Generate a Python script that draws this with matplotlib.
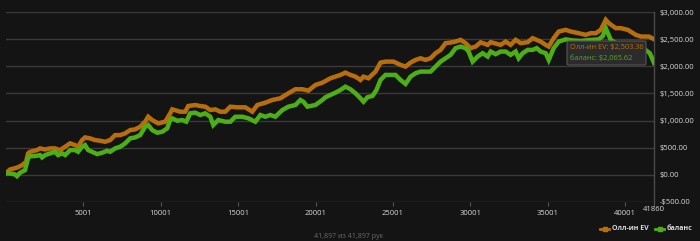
import matplotlib
matplotlib.use("Agg")
import matplotlib.pyplot as plt
from matplotlib.lines import Line2D
from matplotlib.patches import FancyBboxPatch

# ---- data ----
ev_hands = [1, 260, 712, 1036, 1295, 1424, 1553, 2006, 2200, 2524, 2847, 3170, 3494, 3817, 4141,
            4464, 4658, 4917, 5111, 5434, 5758, 6081, 6404, 6728, 7051, 7375, 7698, 8021, 8345,
            8668, 8992, 9186, 9444, 9832, 10285, 10608, 10738, 11255, 11579, 11773, 12226, 12549,
            12872, 13196, 13519, 13843, 14166, 14489, 14942, 15460, 15912, 16236, 16753, 17206,
            17723, 18241, 18694, 19147, 19535, 19988, 20440, 20958, 21605, 21928, 22252, 22575,
            22898, 23092, 23416, 23868, 24192, 24515, 25033, 25485, 25809, 26132, 26455, 26779,
            27102, 27426, 27749, 28072, 28396, 28719, 29043, 29366, 29689, 30013, 30336, 30660,
            31113, 31307, 31953, 32277, 32600, 32923, 33247, 33700, 34023, 34541, 34864, 35058,
            35381, 35705, 36158, 36481, 36998, 37451, 37775, 38098, 38421, 38745, 38939, 39392,
            39715, 40168, 40685, 41009, 41526, 41860]
ev_values = [30, 95, 130, 175, 237, 392, 422, 454, 485, 466, 485, 485, 454, 515, 578,
             546, 515, 639, 688, 670, 639, 626, 608, 639, 731, 731, 763, 824, 837,
             885, 978, 1070, 1009, 948, 978, 1133, 1207, 1163, 1163, 1268, 1287, 1268,
             1256, 1194, 1207, 1163, 1163, 1256, 1244, 1244, 1163, 1287, 1330, 1380,
             1411, 1504, 1578, 1578, 1552, 1657, 1700, 1781, 1843, 1885, 1843, 1811,
             1750, 1811, 1781, 1904, 2070, 2089, 2089, 2028, 1996, 2070, 2120, 2151,
             2120, 2151, 2244, 2305, 2430, 2441, 2459, 2491, 2430, 2337, 2367, 2445,
             2398, 2448, 2398, 2459, 2398, 2491, 2430, 2448, 2522, 2459, 2398, 2367,
             2522, 2645, 2676, 2645, 2614, 2583, 2614, 2614, 2676, 2861, 2800, 2707,
             2707, 2676, 2583, 2552, 2552, 2503.36]

bal_hands = [1, 260, 583, 712, 906, 1230, 1424, 1553, 1877, 2200,
             2330, 2524, 2847, 3170, 3364, 3623, 3817, 4141, 4464, 4658,
             4917, 5111, 5305, 5563, 5887, 6210, 6534, 6728, 7051, 7375,
             7698, 8021, 8345, 8668, 8992, 9186, 9444, 9768, 10091, 10414,
             10608, 10738, 11061, 11384, 11643, 11902, 12226, 12549, 12872, 13196,
             13390, 13713, 14166, 14489, 14813, 15266, 15654, 16106, 16430, 16753,
             17076, 17399, 17852, 18241, 18694, 19017, 19211, 19470, 19988, 20440,
             20634, 20958, 21281, 21605, 21928, 22252, 22575, 22898, 23092, 23350,
             23674, 23932, 24192, 24515, 24838, 25162, 25485, 25809, 26132, 26455,
             26779, 27102, 27426, 27749, 28072, 28396, 28719, 29043, 29366, 29689,
             29883, 30142, 30465, 30789, 31113, 31307, 31630, 31953, 32277, 32600,
             32923, 33117, 33376, 33700, 34023, 34281, 34541, 34864, 35058, 35381,
             35705, 36158, 36610, 37127, 37775, 38292, 38550, 38745, 39068, 39392,
             39844, 40361, 40879, 41332, 41590, 41860]
bal_values = [22, 22, 4, -28, 33, 83, 300, 343, 343, 361,
              319, 361, 393, 422, 361, 393, 361, 454, 454, 422,
              515, 546, 454, 422, 380, 404, 441, 422, 485, 515,
              578, 670, 688, 731, 885, 917, 824, 774, 793, 855,
              1009, 1041, 996, 1009, 978, 1133, 1145, 1102, 1133, 1070,
              917, 1009, 978, 978, 1070, 1070, 1041, 978, 1102, 1070,
              1102, 1070, 1194, 1256, 1287, 1380, 1348, 1256, 1287, 1380,
              1430, 1472, 1515, 1565, 1626, 1578, 1504, 1411, 1348, 1430,
              1454, 1565, 1750, 1843, 1843, 1843, 1750, 1676, 1811, 1874,
              1904, 1904, 1904, 1996, 2089, 2151, 2213, 2337, 2367, 2337,
              2275, 2089, 2182, 2244, 2182, 2275, 2226, 2275, 2275, 2213,
              2275, 2151, 2244, 2305, 2305, 2337, 2275, 2244, 2120, 2337,
              2459, 2500, 2480, 2470, 2490, 2500, 2560, 2707, 2491, 2430,
              2420, 2400, 2330, 2300, 2244, 2065.62]

x_ticks = [5001, 10001, 15001, 20001, 25001, 30001, 35001, 40001, 41860]
y_ticks = [-500, 0, 500, 1000, 1500, 2000, 2500, 3000]
series_names = ["Олл-ин EV", "баланс"]
footer = "41,897 из 41,897 рук"
tooltip_lines = ["Олл-ин EV: $2,503.36", "баланс: $2,065.62"]

# ---- style ----
BG = "#141414"
ORANGE = "#b86e0c"
GREEN = "#4caf16"
GRID = "#3a3a3a"
TXT = "#d8d8d8"
FONT = ["Open Sans", "DejaVu Sans"]
plt.rcParams["font.family"] = FONT

W, H = 700, 241
fig = plt.figure(figsize=(W / 100, H / 100), dpi=100, facecolor=BG)
x0, x1 = 6, 654
yt, yb = 12.3, 201.7
ax = fig.add_axes([x0 / W, 1 - yb / H, (x1 - x0) / W, (yb - yt) / H], facecolor=BG)

ax.plot(ev_hands, ev_values, color=ORANGE, lw=3.2, solid_joinstyle="miter", zorder=3)
ax.plot(bal_hands, bal_values, color=GREEN, lw=3.2, solid_joinstyle="miter", zorder=4)

ax.set_xlim(1, 41860)
ax.set_ylim(-500, 3000)
for s in ["top", "left", "bottom"]:
    ax.spines[s].set_visible(False)
ax.spines["right"].set_color("#4a4a4a")
ax.spines["right"].set_linewidth(1)

ax.set_yticks(y_ticks)
ax.yaxis.tick_right()
ax.set_yticklabels([("-$%s" % format(abs(v), ",.2f")) if v < 0 else "$" + format(v, ",.2f") for v in y_ticks])
ax.tick_params(axis="y", length=0, pad=4, labelsize=5.5, labelcolor=TXT)
ax.grid(axis="y", color=GRID, lw=1)
ax.set_axisbelow(True)

ax.set_xticks(x_ticks)
ax.set_xticklabels([str(v) for v in x_ticks])
ax.tick_params(axis="x", length=3, width=0.8, color="#555555", pad=3, labelsize=5.5, labelcolor=TXT)
for lbl in ax.get_xticklabels():
    if lbl.get_text() == "41860":
        lbl.set_y(0.02)

# tooltip
box = FancyBboxPatch((567 / W, 1 - 65 / H), (646 - 567) / W, (65 - 41) / H,
                     boxstyle="round,pad=0,rounding_size=0.004", transform=fig.transFigure,
                     facecolor="#2b2b2e", edgecolor="#555555", lw=0.8, zorder=10)
fig.patches.append(box)
fig.text(570.5 / W, 1 - 47.5 / H, tooltip_lines[0], color=ORANGE, fontsize=5.3, va="center", ha="left", zorder=11)
fig.text(570.5 / W, 1 - 58.5 / H, tooltip_lines[1], color=GREEN, fontsize=5.3, va="center", ha="left", zorder=11)

# legend
ly = 1 - 229 / H
for (hx0, hx1, tx, name, col) in [(600, 609, 612, series_names[0], ORANGE),
                                   (655, 664, 667, series_names[1], GREEN)]:
    fig.add_artist(Line2D([hx0 / W, hx1 / W], [ly, ly], transform=fig.transFigure,
                          color=col, lw=2))
    fig.add_artist(Line2D([(hx0 + hx1) / 2 / W], [ly], transform=fig.transFigure,
                          color=col, marker="s", markersize=3.2, lw=0))
    fig.text(tx / W, ly, name, color=TXT, fontsize=5.0, fontweight="bold", va="center", ha="left")

fig.text(349 / W, 1 - 236 / H, footer, color="#6a6a6a", fontsize=5.0, ha="center", va="center")

fig.savefig("out.png", dpi=100, facecolor=BG)
